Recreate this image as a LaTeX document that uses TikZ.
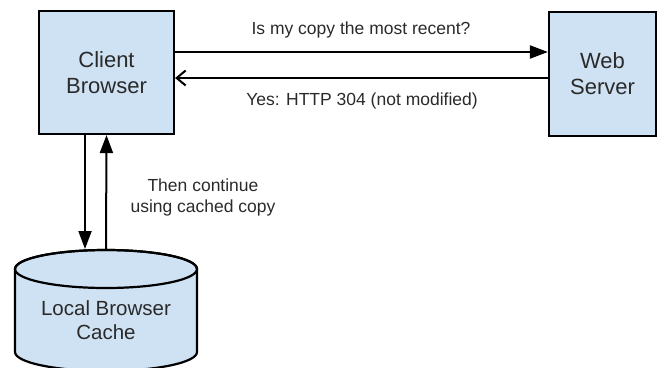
\documentclass[tikz,border=0pt]{standalone}
\usepackage{fontspec}
\setmainfont{Liberation Sans}
\usetikzlibrary{arrows.meta,calc}
\definecolor{boxblue}{HTML}{CFE2F3}
\definecolor{txt}{HTML}{2A2A2A}
\begin{document}
\begin{tikzpicture}[x=1pt,y=-1pt,
  box/.style={draw=black,line width=2.2pt,fill=boxblue,inner sep=0pt,align=center,text=txt,font=\fontsize{22}{26}\selectfont},
  lbl/.style={text=txt,align=center,font=\fontsize{17.5}{21}\selectfont,inner sep=0pt},
  conn/.style={line width=2pt},
  tri/.style={-{Triangle[length=18pt,width=13pt]}},
  barb/.style={-{Straight Barb[length=9pt,width=15pt,line width=2pt]}}]
\useasboundingbox (0,0) rectangle (664,367);
\node[box,minimum width=135pt,minimum height=123pt] (client) at (106.5,72.5) {Client\\Browser};
\node[box,minimum width=107pt,minimum height=124pt] (server) at (602.5,74) {Web\\Server};
% cylinder
\draw[line width=2.2pt,fill=boxblue] (15,269) -- (15,352) arc[start angle=180,end angle=360,x radius=91,y radius=-19] -- (197,269) arc[start angle=0,end angle=180,x radius=91,y radius=-19];
\draw[line width=2.2pt] (106,269) ellipse[x radius=91,y radius=19];
\coordinate (cachetop) at (106,249);
\node[lbl,font=\fontsize{20.5}{24}\selectfont] (cache) at (106,320) {Local Browser\\Cache};
% horizontal connectors
\coordinate (req) at (361,52);
\coordinate (resp) at (361,78);
\draw[conn,tri] (client.east |- req) -- (server.west |- req);
\draw[conn,barb] (server.west |- resp) -- (client.east |- resp);
\node[lbl] (reqlbl) at (361,30) {Is my copy the most recent?};
\node[lbl] (resplbl) at (362,101) {Yes: HTTP 304 (not modified)};
% vertical connectors
\draw[conn,tri] ($(client.south)+(-21.5,0)$) -- ($(cachetop)+(-21,0)$);
\draw[conn,tri] ($(cachetop)+(0,1)$) -- (client.south);
\node[lbl] (cont) at (203,197) {Then continue\\using cached copy};
\end{tikzpicture}
\end{document}
